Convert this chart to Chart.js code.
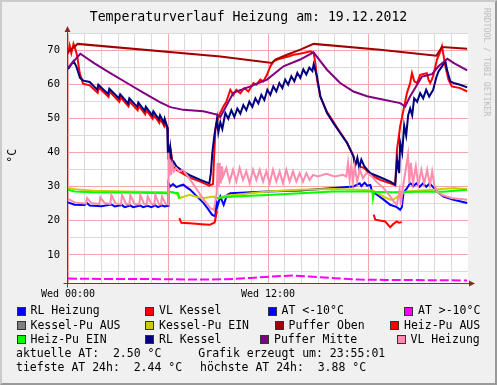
<!DOCTYPE html>
<html>
<head>
<meta charset="utf-8">
<script src="https://cdn.jsdelivr.net/npm/chart.js@4/dist/chart.umd.min.js"></script>
<style>
  html, body { margin: 0; padding: 0; }
  body {
    width: 497px; height: 385px; position: relative; overflow: hidden;
    background: #f0f0f0; color: #000;
    font-family: "DejaVu Sans Mono", monospace;
  }
  #frame {
    position: absolute; left: 0; top: 0; width: 497px; height: 385px;
    box-sizing: border-box; border: 2px solid;
    border-color: #cbcbcb #999 #999 #cbcbcb;
  }
  #chart { position: absolute; left: 0; top: 0; }
  .txt { position: absolute; white-space: pre; font-size: 11.5px; line-height: 11.5px; }
  .sw { position: absolute; width: 9px; height: 9px; box-sizing: border-box; border: 1px solid #333; }
  #title { position: absolute; left: 0; top: 9.5px; width: 497px; text-align: center;
    font-size: 13.2px; line-height: 13.2px; white-space: pre; }
  #unit { position: absolute; left: -6.7px; top: 150.25px; width: 40px; text-align: center;
    font-size: 11.5px; line-height: 11.5px; transform: rotate(-90deg); }
  #mark { position: absolute; left: 427px; top: 57.6px; width: 120px; text-align: center;
    font-size: 8.2px; line-height: 8.2px; color: #bbb; transform: rotate(90deg); white-space: pre; }
</style>
</head>
<body>
<div id="frame"></div>
<canvas id="chart" width="497" height="300"></canvas>
<div id="title"></div>
<div id="unit"></div>
<div id="mark"></div>
<div id="legend"></div>
<script>
// ---- data ----
const chartTitle = 'Temperaturverlauf Heizung am: 19.12.2012';
const yUnit = '°C';
const watermark = 'RRDTOOL / TOBI OETIKER';

const xTickHours = [0, 12];
const xTickLabels = ['Wed 00:00', 'Wed 12:00'];
const xGridHours = [0, 1, 2, 3, 4, 5, 6, 7, 8, 9, 10, 11, 12, 13, 14, 15, 16, 17, 18, 19, 20, 21, 22, 23];
const yGridValues = [5, 10, 15, 20, 25, 30, 35, 40, 45, 50, 55, 60, 65, 70, 75];

const seriesLabels = ['RL Heizung', 'VL Kessel', 'AT <-10°C', 'AT >-10°C',
  'Kessel-Pu AUS', 'Kessel-Pu EIN', 'Puffer Oben', 'Heiz-Pu AUS',
  'Heiz-Pu EIN', 'RL Kessel', 'Puffer Mitte', 'VL Heizung'];
const seriesColors = ['#0000ff', '#ff0000', '#0000ff', '#ff00ff',
  '#808080', '#cccc00', '#a00000', '#ff0000',
  '#00ff00', '#000080', '#800080', '#ff8cac'];

// [hour, °C]
const rlHeizung = [[0,25.4],[0.4,24.7],[1.0,24.6],[1.14,25.2],[1.3,24.5],[2.0,24.3],[2.6,24.8],[2.8,24.2],[3.24,24.6],[3.4,24],
  [3.74,24.5],[3.9,24],[4.34,24.5],[4.5,24],[4.78,24.4],[5.0,24],[5.24,24.5],[5.4,24],[5.64,24.5],[5.8,24.2],[6.0,24.4],
  [6.03,31.1],[6.14,30.1],[6.3,30.8],[6.5,29.9],[6.7,30.3],[6.92,30.6],[7.1,29.9],[7.34,29.1],[7.74,27.1],[8.14,25.2],
  [8.44,23.2],[8.64,21.8],[8.84,21.3],[8.9,26],[8.95,24],[9.14,27.1],[9.34,24.7],[9.54,27.6],[9.74,28.1],[11.94,28.6],
  [13.94,28.9],[15.93,29.6],[17.13,30.1],[17.5,31],[17.6,30.2],[17.8,31.2],[17.95,30.3],[18.14,30.5],[18.24,28.6],
  [18.5,27.8],[18.94,26.2],[19.33,24.7],[19.73,24],[19.93,23.2],[20.03,24],[20.13,28.1],[20.33,29.5],[20.53,31.1],
  [20.73,30.2],[20.9,31],[21.1,30],[21.3,31],[21.5,30],[21.7,31],[21.85,30.2],[22.14,28.6],[22.53,27.1],[23.13,26.2],[23.95,25.2]];
const vlKessel = [[0,69],[0.1,71.5],[0.2,69.3],[0.33,72],[0.45,70.3],[0.55,68.5],[0.7,63.5],[0.9,60.3],[1.3,59.8],
  [1.78,57.6],[1.85,59.2],[2.43,56.4],[2.51,57.9],[3.08,55],[3.16,56.3],[3.63,53.6],[3.71,55],[4.18,52.5],[4.25,53.8],
  [4.63,51.3],[4.7,52.5],[5.08,50],[5.15,51.2],[5.48,48.8],[5.55,50],[5.77,47.8],[5.83,49],[5.98,46.5],
  [6.01,38],[6.06,41],[6.11,36.5],[6.2,39.5],[6.3,36],[6.5,35],[6.92,33.8],[7.34,32.6],[7.94,31.5],[8.48,30.3],[8.7,30.8],
  [8.76,38],[8.84,46.8],[9.03,50.7],[9.32,53.6],[9.5,55],[9.74,58.5],[9.92,57],[10.1,58.5],[10.34,57.5],[10.58,59],
  [10.82,58],[11.13,60.5],[11.3,60],[11.54,61.5],[11.72,61],[11.94,62.9],[12.14,65.4],[12.34,66.9],[12.62,67.5],
  [12.93,67.9],[13.22,68.3],[13.53,68.8],[13.8,69],[14.13,69.3],[14.54,69.8],[14.74,69.3],[14.84,66.4],[14.94,61.5],
  [15.14,56.5],[15.54,52],[15.93,49],[16.33,46],[16.74,43],[17.13,39],[17.23,36.5],[17.36,38],[17.48,36],[17.78,35.5],
  [18.14,33.5],[18.73,32],[19.33,31],[19.63,30.5],[19.74,40.9],[19.93,47.7],[20.13,52.6],[20.34,57.6],[20.53,60.5],
  [20.64,63.4],[20.78,61],[20.94,60.5],[21.13,62.9],[21.53,63.4],[21.63,61.5],[21.73,60.5],[21.83,61.5],[21.93,62.9],
  [22.14,67.4],[22.34,69.8],[22.44,71.3],[22.52,69],[22.64,65.4],[22.83,61.5],[23.03,59.5],[23.53,59],[23.95,58]];
const atBelow10 = [];
const atAbove10 = [[0,3.0],[2,2.9],[5,2.85],[8,2.7],[9.5,2.8],[11,3.2],[12.5,3.7],[13.5,3.88],[14.5,3.6],[16,3.1],
  [17.5,2.7],[19,2.6],[21,2.55],[23,2.5],[23.95,2.44]];
const kesselPuAus = [];
const kesselPuEin = [[0,29.6],[0.4,29.3],[1.5,28.8],[3.5,28.6],[5.97,28.4],[6.3,28.4],[6.6,27.6],[6.7,26.7],[7.3,27.6],
  [7.74,27],[8.14,26.7],[8.74,27.1],[8.94,26.5],[9.5,27.4],[9.94,27.6],[11.94,28.6],[13.94,29.1],[15.93,29.3],[17.5,29.1],
  [18.3,28.9],[18.94,27.1],[19.33,26.2],[19.55,26.3],[19.93,27.6],[20.3,28.6],[21.9,29.1],[23.13,29.6],[23.95,29.3]];
const pufferOben = [[0,69.6],[0.58,72],[9.14,68.3],[12.24,66.4],[12.44,67.4],[13.14,68.8],[13.94,70.3],[14.74,72],
  [18.73,70.3],[22.1,68.5],[22.44,71.1],[23.95,70.6]];
const heizPuAus = [[6.68,20.8],[6.8,19.4],[7.5,19.2],[8.0,19],[8.5,18.8],[8.8,19.5],[8.94,23],[13,null],
  [18.34,21.8],[18.44,20.3],[19.03,19.8],[19.33,18.1],[19.53,19.1],[19.73,19.8],[19.85,19.4],[20.03,19.6]];
const heizPuEin = [[0,29.1],[0.4,28.6],[1.5,28.4],[3.5,28.3],[5.97,28.1],[6.05,28.6],[6.3,28.3],[6.6,28.1],[6.68,26.5],
  [7.8,null],[8.95,26.7],[9.94,27.1],[11.94,27.6],[13.94,28.1],[15.93,28.6],[18.27,28.6],[18.3,26.7],[18.36,28.5],
  [19.5,28.4],[21,28.5],[22.5,28.5],[23.2,28.8],[23.95,29.1]];
const rlKessel = [[0,64.6],[0.33,66.9],[0.5,65.4],[0.72,62],[0.92,61.2],[1.3,60.8],[1.75,58.5],[1.82,60],[2.4,57.3],
  [2.48,58.8],[3.05,56],[3.13,57.2],[3.6,54.5],[3.68,56],[4.15,53.5],[4.22,54.8],[4.6,52.3],[4.67,53.5],[5.05,51],
  [5.12,52.2],[5.45,49.8],[5.52,51],[5.75,48.8],[5.8,50],[5.96,47.5],
  [5.99,40],[6.02,42.4],[6.08,38.5],[6.14,41.5],[6.23,37.5],[6.32,37.5],[6.5,36],[6.92,34.5],[7.34,33.3],[7.94,32],
  [8.48,31],[8.57,34],[8.66,40],[8.78,45],[8.94,50],[9.02,46],[9.14,49],[9.26,47],[9.44,51.7],[9.62,50],[9.8,52.5],
  [9.98,50.5],[10.16,53],[10.34,51.5],[10.52,54],[10.7,52.5],[10.88,55],[11.06,53.5],[11.24,56],[11.42,54.5],[11.6,57],
  [11.78,55.5],[11.96,58.5],[12.14,57],[12.32,59.5],[12.5,58],[12.68,60.5],[12.86,59],[13.03,61.5],[13.21,60],[13.4,62.5],
  [13.58,61],[13.76,63.5],[13.94,62],[14.12,64.5],[14.3,63],[14.48,65],[14.66,64],[14.74,66],[14.94,62.4],[15.14,56.6],
  [15.54,51.7],[15.93,48.7],[16.33,45.8],[16.74,42.9],[17.13,38.9],[17.23,36],[17.36,38.5],[17.48,35.5],[17.6,38],
  [17.78,36],[18.14,34],[18.73,32.8],[19.33,31.5],[19.63,30.6],[19.75,38],[19.87,34],[19.93,43],[20.05,40],[20.17,48],
  [20.29,45],[20.41,51],[20.53,53],[20.65,51],[20.77,56],[20.95,55],[21.13,57.5],[21.31,56],[21.49,58.5],[21.67,56.5],
  [21.91,58.5],[22.09,62],[22.23,63.9],[22.44,65.4],[22.64,66.9],[22.76,64],[22.94,61],[23.13,60.5],[23.53,60],[23.95,59.2]];
const pufferMitte = [[0,65],[0.74,69.1],[1.54,66.4],[2.54,63.4],[3.54,60.5],[4.54,57.6],[5.54,54.8],[6.14,53.4],
  [6.92,52.6],[8.12,52.2],[8.94,51.2],[9.14,50.5],[9.92,57.6],[10.94,59.5],[11.94,61.5],[12.93,65.4],[13.93,67.4],
  [14.73,69.5],[15.54,64.4],[16.33,60.5],[17.13,58],[17.94,56.6],[18.73,55.8],[19.93,54.6],[20.23,53.6],[20.53,56.6],
  [21.24,62.4],[21.84,63.1],[22.23,65.4],[22.77,67.6],[23.13,66.4],[23.95,64.2]];
const vlHeizung = [[0,26.4],[0.4,25.4],[1.08,25],[1.14,26.7],[1.4,25.2],[1.88,24.9],[1.94,26.9],[2.2,25.2],[2.54,24.9],
  [2.6,27.6],[2.85,25.1],[3.18,24.8],[3.24,27.6],[3.48,25],[3.68,24.8],[3.74,27.6],[3.98,25],[4.28,24.8],[4.34,27.6],
  [4.56,25],[4.72,24.8],[4.78,27.2],[5.0,25],[5.18,24.8],[5.24,27.6],[5.45,25],[5.58,24.8],[5.64,27.2],[5.85,25],[6.0,24.8],
  [6.03,40],[6.08,33],[6.13,38],[6.19,33.5],[6.26,36.5],[6.36,34.5],[6.5,35.5],[6.68,34.5],[6.9,35],[7.05,34],[7.34,32],
  [7.74,29.1],[8.14,26.2],[8.54,23.7],[8.76,23.2],[8.92,28.1],[8.98,37],[9.04,30],[9.1,37],[9.17,31],[9.24,36],
  [9.3,33],[9.5,35.5],[9.7,31.5],[9.9,35],[10.1,31.5],[10.3,35.5],[10.5,32],[10.7,34.5],[10.9,31],[11.1,35],[11.3,32],
  [11.5,35],[11.7,31.5],[11.9,34.5],[12.1,31],[12.3,35],[12.5,31.5],[12.7,34.5],[12.9,31],[13.1,35],[13.3,31.5],
  [13.5,34.5],[13.7,31.5],[13.9,34],[14.1,31.5],[14.3,34],[14.5,32],[14.7,33.5],[15.0,33],[15.5,33.8],[16.0,33],
  [16.5,33.5],[16.7,33],[16.8,37],[16.9,32],[17.0,36.5],[17.1,31.5],[17.2,36],[17.35,31.5],[17.5,35],[17.7,32.5],
  [17.9,34],[18.14,33.5],[18.5,31.5],[18.94,29.6],[19.33,27.2],[19.53,25.7],[19.73,24.7],[19.9,29.1],[19.97,24.5],
  [20.1,30],[20.4,39.4],[20.48,31],[20.57,37],[20.7,31],[20.87,36],[21.02,30.5],[21.2,35],[21.37,31],[21.55,35],
  [21.72,30.5],[21.85,34.5],[21.98,30.5],[22.14,28.6],[22.5,27.5],[23.0,26.7],[23.95,26.2]];

const seriesData = [rlHeizung, vlKessel, atBelow10, atAbove10, kesselPuAus, kesselPuEin,
  pufferOben, heizPuAus, heizPuEin, rlKessel, pufferMitte, vlHeizung];

const footerLines = [
  ['aktuelle AT:  2.50 °C', 'Grafik erzeugt um: 23:55:01'],
  ['tiefste AT 24h:  2.44 °C', 'höchste AT 24h:  3.88 °C']
];

// ---- layout (pixels) ----
const gridMinor = '#dadada';
const gridMajor = '#f2a8a8';
const axisColor = '#8c2a2a';
const legendCols = [[16.5, 145, 267.5, 404], [16.5, 145, 274.5, 390], [16.5, 145, 260, 396.5]];
const rowTops = [305.3, 319.5, 333.6, 347.7, 361.8];
const footerX = [[16, 198.3], [16, 200]];

const rrdFrame = {
  id: 'rrdFrame',
  beforeDraw(chart) {
    const { ctx, chartArea: a } = chart;
    ctx.save();
    ctx.fillStyle = '#fff';
    ctx.fillRect(a.left, a.top, a.right - a.left, a.bottom - a.top);
    ctx.restore();
  },
  afterDraw(chart) {
    const { ctx, chartArea: a } = chart;
    const ax = Math.round(a.left) - 0.5, ay = Math.round(a.bottom) + 0.5;
    ctx.save();
    ctx.strokeStyle = axisColor;
    ctx.fillStyle = axisColor;
    ctx.lineWidth = 1;
    ctx.beginPath();
    ctx.moveTo(ax, ay + 4); ctx.lineTo(ax, a.top - 2);
    ctx.moveTo(ax - 4, ay); ctx.lineTo(a.right + 2, ay);
    ctx.stroke();
    ctx.beginPath();
    ctx.moveTo(ax, a.top - 7); ctx.lineTo(ax - 3, a.top - 1); ctx.lineTo(ax + 3, a.top - 1); ctx.closePath();
    ctx.moveTo(a.right + 7, ay); ctx.lineTo(a.right + 1, ay - 3); ctx.lineTo(a.right + 1, ay + 3); ctx.closePath();
    ctx.fill();
    ctx.restore();
  }
};

const datasets = seriesLabels.map((label, i) => ({
  label: label,
  data: seriesData[i].map(p => ({ x: p[0], y: p[1] })),
  borderColor: seriesColors[i],
  backgroundColor: seriesColors[i],
  borderWidth: 2,
  borderDash: label === 'AT >-10°C' ? [9, 3] : [],
  pointRadius: 0,
  tension: 0,
  spanGaps: false,
  order: seriesLabels.length - 1 - i
}));

const tickFont = { family: 'DejaVu Sans Mono', size: 10.5 };

new Chart(document.getElementById('chart'), {
  type: 'line',
  data: { datasets: datasets },
  options: {
    responsive: false,
    animation: false,
    devicePixelRatio: 1,
    layout: { padding: { top: 33, right: 29, left: 0, bottom: 0 } },
    plugins: {
      legend: { display: false },
      title: { display: false },
      tooltip: { enabled: false }
    },
    scales: {
      x: {
        type: 'linear',
        min: 0,
        max: 24,
        afterBuildTicks: s => { s.ticks = xGridHours.map(v => ({ value: v })); },
        afterFit: s => { s.height = 17; },
        border: { display: false },
        grid: {
          drawTicks: false,
          color: c => (c.tick && c.tick.value % 6 === 0) ? gridMajor : gridMinor
        },
        ticks: {
          autoSkip: false,
          maxRotation: 0,
          padding: 5,
          color: '#000',
          font: { family: 'DejaVu Sans Mono', size: 10 },
          callback: v => {
            const k = xTickHours.indexOf(v);
            return k >= 0 ? xTickLabels[k] : '';
          }
        }
      },
      y: {
        min: 1.7,
        max: 75.2,
        afterBuildTicks: s => { s.ticks = yGridValues.map(v => ({ value: v })); },
        afterFit: s => { s.width = 68; },
        border: { display: false },
        grid: {
          drawTicks: false,
          color: c => (c.tick && c.tick.value % 10 === 0) ? gridMajor : gridMinor
        },
        ticks: {
          padding: 8,
          color: '#000',
          font: tickFont,
          callback: v => (v % 10 === 0 ? String(v) : '')
        }
      }
    }
  },
  plugins: [rrdFrame]
});

// ---- texts ----
document.getElementById('title').textContent = chartTitle;
document.getElementById('unit').textContent = yUnit;
document.getElementById('mark').textContent = watermark;

const legend = document.getElementById('legend');
seriesLabels.forEach((label, i) => {
  const row = Math.floor(i / 4), col = i % 4;
  const x = legendCols[row][col], top = rowTops[row];
  const sw = document.createElement('div');
  sw.className = 'sw';
  sw.style.left = x + 'px';
  sw.style.top = (top + 1.5) + 'px';
  sw.style.background = seriesColors[i];
  legend.appendChild(sw);
  const t = document.createElement('div');
  t.className = 'txt';
  t.style.left = (x + 14) + 'px';
  t.style.top = top + 'px';
  t.textContent = label;
  legend.appendChild(t);
});
footerLines.forEach((line, r) => {
  line.forEach((s, c) => {
    const t = document.createElement('div');
    t.className = 'txt';
    t.style.left = footerX[r][c] + 'px';
    t.style.top = rowTops[3 + r] + 'px';
    t.textContent = s;
    legend.appendChild(t);
  });
});
</script>
</body>
</html>
